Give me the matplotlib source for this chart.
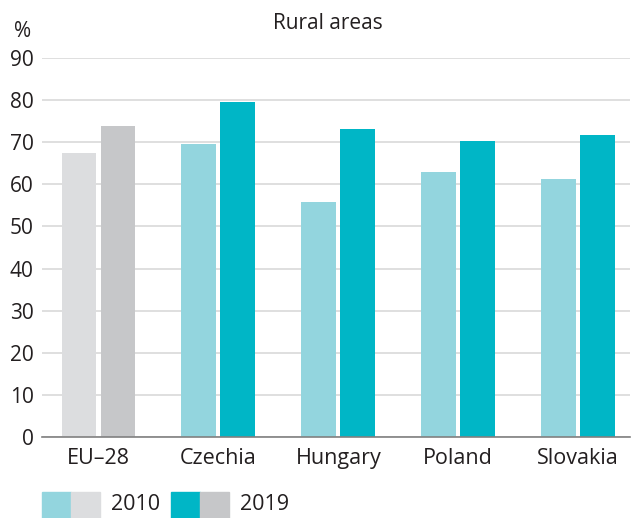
import numpy as np
import matplotlib
matplotlib.use('Agg')
from matplotlib import pyplot as plt
from matplotlib.patches import Rectangle

plt.rcParams['font.family'] = ['Open Sans', 'DejaVu Sans']

categories = ["EU\u201328", "Czechia", "Hungary", "Poland", "Slovakia"]
values_2010 = [67.5, 69.6, 55.8, 62.9, 61.3]
values_2019 = [73.9, 79.6, 73.2, 70.3, 71.7]

col_2010 = ["#dcdddf", "#93d5de", "#93d5de", "#93d5de", "#93d5de"]
col_2019 = ["#c6c7c9", "#00b6c6", "#00b6c6", "#00b6c6", "#00b6c6"]

fig = plt.figure(figsize=(6.32, 5.18), dpi=100)
ax = fig.add_axes([0.0665, 0.1564, 0.93, 0.888 - 0.1564])

x = np.arange(len(categories))
w = 0.29
off = 0.1625
ax.bar(x - off, values_2010, w, color=col_2010, zorder=3)
ax.bar(x + off, values_2019, w, color=col_2019, zorder=3)

ax.set_ylim(0, 90)
ax.set_xlim(-0.47, 4.43)
ax.set_yticks(range(0, 91, 10))
ax.set_xticks(x)
ax.set_xticklabels(categories)
ax.tick_params(length=0, labelsize=15, colors="#231f20", pad=6)
ax.tick_params(axis="x", pad=8, labelsize=15.5)
ax.grid(True, axis="y", color="#d9d9d9", linewidth=1.2, zorder=0)
for s in ["top", "right", "left"]:
    ax.spines[s].set_visible(False)
ax.spines["bottom"].set_color("#808080")
ax.spines["bottom"].set_linewidth(1.2)
ax.spines["bottom"].set_zorder(4)

fig.text(0.519, 0.955, "Rural areas", ha="center", va="center", fontsize=15, color="#231f20")
fig.text(0.035, 0.94, "%", ha="center", va="center", fontsize=15, color="#231f20")

# legend
def px(xp, yp):
    return xp / 632, 1 - yp / 518

for x0, c in [(42, "#93d5de"), (71, "#dcdddf"), (171, "#00b6c6"), (200, "#c6c7c9")]:
    fx, fy = px(x0, 518)
    fig.patches.append(Rectangle((fx, fy), 29 / 632, 26 / 518, transform=fig.transFigure,
                                 color=c, zorder=5))
fig.text(111 / 632, 1 - 505 / 518, "2010", ha="left", va="center", fontsize=15.5, color="#231f20")
fig.text(240 / 632, 1 - 505 / 518, "2019", ha="left", va="center", fontsize=15.5, color="#231f20")

plt.savefig("out.png", dpi=100)
plt.close()
